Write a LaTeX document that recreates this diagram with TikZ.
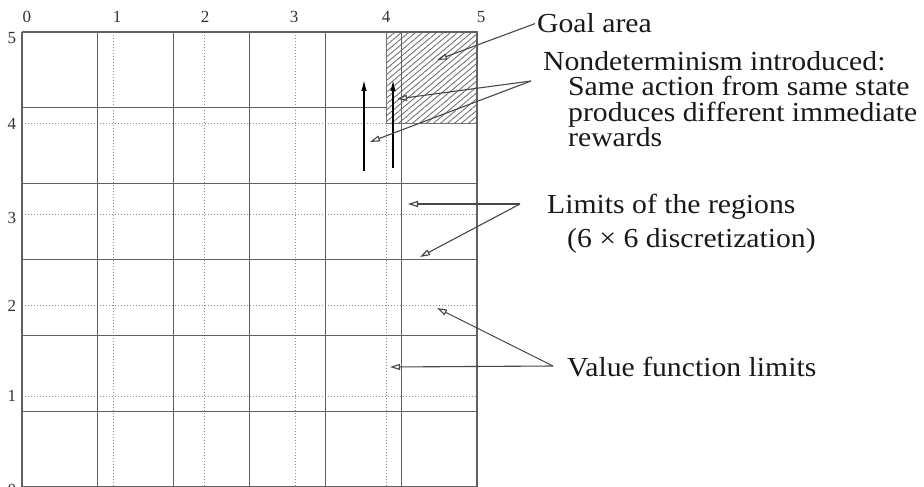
\documentclass[tikz,border=0pt]{standalone}
\usepackage{fontspec}
\setmainfont{Liberation Serif}
\newfontfamily\wideserif[FakeStretch=1.08]{Liberation Serif}
\usetikzlibrary{arrows.meta,patterns.meta}
\begin{document}
\begin{tikzpicture}[x=1pt,y=-1pt,
  gridline/.style={draw=black!62, line width=1.3pt},
  dotline/.style={draw=black!45, line width=1pt, dash pattern=on 1pt off 2pt},
  callout/.style={draw=black!72, line width=1.1pt, -{Triangle[open,length=10pt,width=6pt]}},
  moveup/.style={draw=black, line width=1.3pt, -{Latex[length=11pt,width=5.5pt]}},
  lbl/.style={font=\wideserif\fontsize{27.5}{25.5}\selectfont, inner sep=0pt, text=black!90, align=left},
  axlbl/.style={font=\fontsize{17}{18}\selectfont, inner sep=0pt, text=black!80}]
\useasboundingbox (0,0) rectangle (924,487);
\fill[white] (0,0) rectangle (924,487);
% value function limits (dotted)
\foreach \i in {1,...,4} {
  \draw[dotline] (22+91*\i,32) -- (22+91*\i,487);
  \draw[dotline] (22,487-91*\i) -- (477,487-91*\i);
}
% region limits (6 x 6)
\foreach \i in {0,...,6} {
  \draw[gridline] ({22+455*\i/6},32) -- ({22+455*\i/6},487);
  \draw[gridline] (22,{32+455*\i/6}) -- (477,{32+455*\i/6});
}
% goal area
\fill[white] (386,32) rectangle (477,123);
\fill[pattern={Lines[angle=40,distance=4.5pt,line width=0.9pt]}, pattern color=black!55] (386,32) rectangle (477,123);
\draw[black!55, line width=1pt] (386,32) rectangle (477,123);
\draw[gridline] (22,32) -- (477,32);
\draw[gridline] (477,32) -- (477,487);
\draw[gridline] (401.17,32) -- (401.17,487);
% axis labels
\node[axlbl] (x0) at (27,17) {0};
\node[axlbl] (x1) at (117,17) {1};
\node[axlbl] (x2) at (205,17) {2};
\node[axlbl] (x3) at (294,17) {3};
\node[axlbl] (x4) at (386,17) {4};
\node[axlbl] (x5) at (481,17) {5};
\node[axlbl] (y5) at (12,38) {5};
\node[axlbl] (y4) at (12,124) {4};
\node[axlbl] (y3) at (12,218) {3};
\node[axlbl] (y2) at (12,306) {2};
\node[axlbl] (y1) at (12,396) {1};
\node[axlbl] (y0) at (12,490) {0};
% moves
\coordinate (a1s) at (364,171);
\coordinate (a1e) at (364,80);
\coordinate (a2s) at (393,168);
\coordinate (a2e) at (393,80);
\draw[moveup] (a1s) -- (a1e);
\draw[moveup] (a2s) -- (a2e);
% labels
\node[lbl, anchor=base west] (goal) at (537,33) {Goal area};
\node[lbl, anchor=north west] (nd) at (543,51) {Nondeterminism introduced:\\
  \hspace*{25pt}Same action from same state\\
  \hspace*{25pt}produces different immediate\\
  \hspace*{25pt}rewards};
\node[lbl, anchor=north west, font=\wideserif\fontsize{27.5}{34}\selectfont] (lim) at (547,194) {Limits of the regions\\
  \hspace*{20pt}(6 × 6 discretization)};
\node[lbl, anchor=base west] (val) at (567,376) {Value function limits};
% callouts
\coordinate (gtip) at (437,60);
\coordinate (ndc) at (531,81);
\coordinate (ndt1) at (397,99);
\coordinate (ndt2) at (370,142);
\coordinate (limc) at (520,204);
\coordinate (limt1) at (408,204);
\coordinate (limt2) at (420,257);
\coordinate (valc) at (553,366);
\coordinate (valt1) at (437,308);
\coordinate (valt2) at (390,367);
\draw[callout] ([xshift=-2pt]goal.west) -- (gtip);
\draw[callout] (ndc) -- (ndt1);
\draw[callout] (ndc) -- (ndt2);
\draw[callout] (limc) -- (limt1);
\draw[callout] (limc) -- (limt2);
\draw[callout] (valc) -- (valt1);
\draw[callout] (valc) -- (valt2);
\end{tikzpicture}
\end{document}
